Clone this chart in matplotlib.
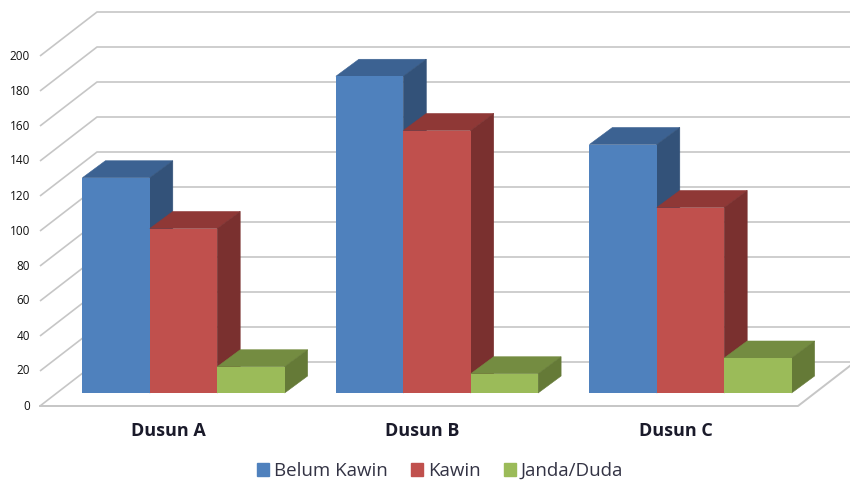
import matplotlib; matplotlib.use("Agg")
import matplotlib.pyplot as plt
from matplotlib.patches import Patch

plt.rcParams["font.family"] = ["Open Sans", "DejaVu Sans"]

categories = ["Dusun A", "Dusun B", "Dusun C"]
series = ["Belum Kawin", "Kawin", "Janda/Duda"]
belum_kawin = [123, 181, 142]
kawin = [94, 150, 106]
janda_duda = [15, 11, 20]
ticks = list(range(0, 220, 20))

W, H = 850, 482
fig = plt.figure(figsize=(W/100, H/100), dpi=100)
ax = fig.add_axes([0, 0, 1, 1]); ax.axis("off")
# one category = 253.5 px, one unit of value = 1.75 px
cat_px, val_px = 253.5, 1.75
ax.set_xlim(-183.5/cat_px, (W-183.5)/cat_px)
ax.set_ylim(-(H-406)/val_px, 406/val_px)

px = lambda p: p/cat_px
py = lambda p: p/val_px
wall_dx, wall_dy = px(57), py(44)   # depth of the chart box
bar_dx, bar_dy = px(23), py(17)     # depth of a column
x_left = px(40-183.5); x_right = px(798-183.5)
floor = py(13)                      # columns stand a bit behind the front edge
width = px(67.4)
grid = "#c6c6c6"

for t in ticks:
    ax.plot([x_left, x_left+wall_dx, x_right+wall_dx], [t, t+wall_dy, t+wall_dy], c=grid, lw=1.2, zorder=1, solid_capstyle="butt")
    ax.text(x_left-px(10), t, str(t), ha="right", va="center", fontsize=8.5, color="#111111")
ax.plot([x_left, x_right, x_right+wall_dx], [0, 0, wall_dy], c=grid, lw=1.4, zorder=1)

colors = [("#4f81bd", "#3c6292", "#335279"), ("#c0504d", "#8f3836", "#7a302f"), ("#9bbb59", "#748c41", "#657a37")]
z = 2
for i, cat in enumerate(categories):
    for j, vals in enumerate([belum_kawin, kawin, janda_duda]):
        v = vals[i]
        x0 = i + (j-1.5)*width
        x1 = x0 + width
        front, top, side = colors[j]
        ax.bar(x0, v, width, bottom=floor, align="edge", color=front, lw=0, zorder=z+1)
        y1 = floor + v
        ax.fill([x0, x1, x1+bar_dx, x0+bar_dx], [y1, y1, y1+bar_dy, y1+bar_dy], facecolor=top, edgecolor=top, lw=0.4, zorder=z)
        ax.fill([x1, x1+bar_dx, x1+bar_dx, x1], [floor, floor+bar_dy, y1+bar_dy, y1], facecolor=side, edgecolor=side, lw=0.4, zorder=z)
        z += 2
    ax.text(i-px(15), py(-25), cat, ha="center", va="center", fontsize=13, fontweight="bold", color="#1a1a2a")

handles = [Patch(color=c[0], label=s) for c, s in zip(colors, series)]
ax.legend(handles=handles, loc="center", bbox_to_anchor=(440/W, 1-471/H), ncol=3, frameon=False,
          fontsize=13.5, handlelength=0.65, handleheight=0.65, handletextpad=0.25, columnspacing=1.25, labelcolor="#333344")
fig.savefig("out.png", dpi=100)
